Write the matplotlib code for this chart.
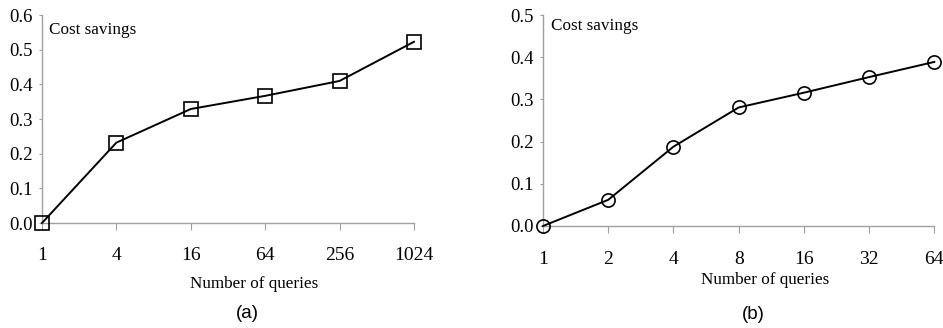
import matplotlib
matplotlib.use("Agg")
import matplotlib.pyplot as plt
import numpy as np

# Data
queries_a = [1, 4, 16, 64, 256, 1024]
savings_a = [0.0, 0.232, 0.329, 0.367, 0.41, 0.523]
queries_b = [1, 2, 4, 8, 16, 32, 64]
savings_b = [0.0, 0.062, 0.188, 0.281, 0.316, 0.353, 0.389]
yticks_a = [0.0, 0.1, 0.2, 0.3, 0.4, 0.5, 0.6]
yticks_b = [0.0, 0.1, 0.2, 0.3, 0.4, 0.5]

serif = "Liberation Serif"
sans = "Liberation Sans"
spine_col = "#a0a0a0"

fig = plt.figure(figsize=(9.43, 3.28), dpi=100)
ax_a = fig.add_axes([0.0445, 0.320, 0.3945, 0.634])
ax_b = fig.add_axes([0.5758, 0.311, 0.4150, 0.643])

def style(ax, xs, ys, yticks, marker, caption, xlab_pad, cap_x, cap_y, xpad, xlab_x):
    ax.plot(xs, ys, color="black", lw=1.4, marker=marker, markersize=9.5,
            markerfacecolor="none", markeredgecolor="black", markeredgewidth=1.2,
            clip_on=False, zorder=3)
    ax.set_xscale("log", base=2)
    ax.set_xlim(xs[0], xs[-1])
    ax.set_ylim(yticks[0], yticks[-1])
    ax.set_xticks(xs)
    ax.set_xticklabels([str(v) for v in xs], fontfamily=serif, fontsize=14)
    ax.minorticks_off()
    ax.set_yticks(yticks)
    ax.set_yticklabels([f"{v:.1f}" for v in yticks], fontfamily=serif, fontsize=13.5)
    for s in ["top", "right"]:
        ax.spines[s].set_visible(False)
    for s in ["left", "bottom"]:
        ax.spines[s].set_color(spine_col)
        ax.spines[s].set_linewidth(1.0)
    ax.tick_params(axis="x", direction="out", length=5, color=spine_col, pad=xpad)
    ax.tick_params(axis="y", direction="out", length=2.5, color=spine_col, pad=4)
    ax.text(0.02, 0.93 if caption == "(a)" else 0.95, "Cost savings",
            transform=ax.transAxes, fontfamily=serif,
            fontsize=12.3, ha="left", va="center")
    ax.set_xlabel("Number of queries", fontfamily=serif, fontsize=12.3,
                  labelpad=xlab_pad, x=xlab_x)
    ax.text(cap_x, cap_y, caption, transform=ax.transAxes, fontfamily=sans,
            fontsize=13.5, ha="center", va="center")

style(ax_a, queries_a, savings_a, yticks_a, "s", "(a)", 9, 0.551, -0.435, 12, 0.57)
style(ax_b, queries_b, savings_b, yticks_b, "o", "(b)", 3, 0.537, -0.42, 13, 0.567)

fig.savefig("out.png", dpi=100)
